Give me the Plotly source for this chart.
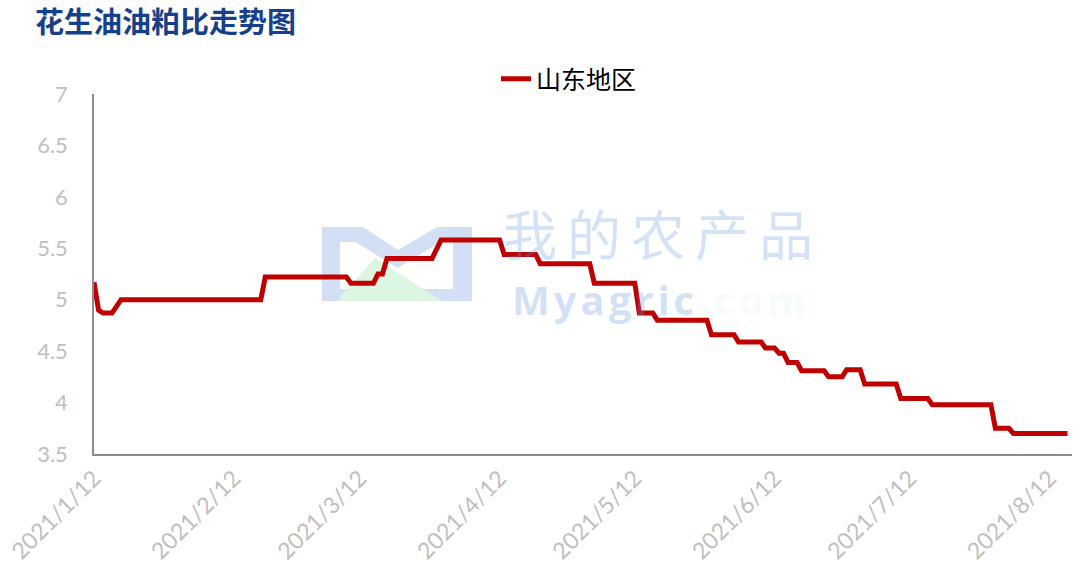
import plotly.graph_objects as go

# ---- data ----
dates = [
    "2021-01-12", "2021-01-13", "2021-01-14", "2021-01-16", "2021-01-18",
    "2021-02-18", "2021-02-19", "2021-03-09", "2021-03-10", "2021-03-15",
    "2021-03-16", "2021-03-17", "2021-03-18", "2021-03-28", "2021-03-30",
    "2021-04-12", "2021-04-13", "2021-04-20", "2021-04-21", "2021-05-02",
    "2021-05-03", "2021-05-12", "2021-05-13", "2021-05-16", "2021-05-17",
    "2021-05-28", "2021-05-29", "2021-06-03", "2021-06-04", "2021-06-09",
    "2021-06-10", "2021-06-12", "2021-06-13", "2021-06-14", "2021-06-15",
    "2021-06-17", "2021-06-18", "2021-06-23", "2021-06-24", "2021-06-27",
    "2021-06-28", "2021-07-01", "2021-07-02", "2021-07-09", "2021-07-10",
    "2021-07-16", "2021-07-17", "2021-07-30", "2021-07-31", "2021-08-03",
    "2021-08-04", "2021-08-16",
]
shandong = [
    5.17, 4.90, 4.87, 4.87, 5.00,
    5.00, 5.22, 5.22, 5.16, 5.16,
    5.25, 5.25, 5.40, 5.40, 5.58,
    5.58, 5.44, 5.44, 5.35, 5.35,
    5.16, 5.16, 4.87, 4.87, 4.80,
    4.80, 4.66, 4.66, 4.59, 4.59,
    4.53, 4.53, 4.48, 4.48, 4.39,
    4.39, 4.31, 4.31, 4.25, 4.25,
    4.32, 4.32, 4.18, 4.18, 4.04,
    4.04, 3.98, 3.98, 3.75, 3.75,
    3.70, 3.70,
]
series_name = "山东地区"
title_text = "花生油油粕比走势图"
x_tick_vals = ["2021-01-12", "2021-02-12", "2021-03-12", "2021-04-12",
               "2021-05-12", "2021-06-12", "2021-07-12", "2021-08-12"]
x_tick_text = ["2021/1/12", "2021/2/12", "2021/3/12", "2021/4/12",
               "2021/5/12", "2021/6/12", "2021/7/12", "2021/8/12"]
y_tick_vals = [3.5, 4, 4.5, 5, 5.5, 6, 6.5, 7]
y_tick_text = ["3.5", "4", "4.5", "5", "5.5", "6", "6.5", "7"]

# ---- layout geometry ----
W, H = 1081, 571
L, R, T, B = 94, 1072, 94, 454


def px(x):
    return (x - L) / (R - L)


def py(y):
    return (B - y) / (B - T)


def path(points):
    s = ""
    for i, (x, y) in enumerate(points):
        s += ("M" if i == 0 else "L") + f"{px(x):.4f},{py(y):.4f} "
    return s + "Z"


fig = go.Figure()
fig.add_trace(go.Scatter(
    x=dates, y=shandong, mode="lines", name=series_name,
    line=dict(color="#C00000", width=5, shape="linear"),
))

# watermark logo (faint)
logo_outer = [(322, 227), (363, 227), (398, 250), (437, 227), (472, 227),
              (472, 301), (322, 301)]
logo_inner = [(340, 242), (355, 242), (398, 268), (440, 242), (453, 242),
              (453, 289), (340, 289)]
logo_tri = [(340, 297), (375, 258), (442, 301), (340, 301)]
shapes = [
    dict(type="path", path=path(logo_outer), xref="paper", yref="paper",
         fillcolor="#D3DFF4", line=dict(width=0), layer="below"),
    dict(type="path", path=path(logo_inner), xref="paper", yref="paper",
         fillcolor="#FFFFFF", line=dict(width=0), layer="below"),
    dict(type="path", path=path(logo_tri), xref="paper", yref="paper",
         fillcolor="#DDF6E2", line=dict(width=0), layer="below"),
]

annotations = [
    dict(text="<span style='letter-spacing:10px'>我的农产品</span>",
         x=px(663), y=py(274), xref="paper", yref="paper",
         xanchor="center", yanchor="bottom", showarrow=False,
         font=dict(family="Noto Sans CJK SC", size=54,
                   color="rgba(100,150,225,0.28)")),
    dict(text="<span style='letter-spacing:4px'><b>Myagric"
              "<span style='color:rgba(120,220,140,0.3)'>.com</span></b></span>",
         x=px(661), y=py(270), xref="paper", yref="paper",
         xanchor="center", yanchor="top", showarrow=False,
         font=dict(family="Open Sans", size=40,
                   color="rgba(100,150,225,0.28)")),
]

fig.update_layout(
    width=W, height=H,
    margin=dict(l=L, r=W - R, t=T, b=H - B, autoexpand=False),
    paper_bgcolor="white", plot_bgcolor="white",
    title=dict(text="<b>" + title_text + "</b>", x=35 / W, xanchor="left",
               y=1 - 23 / H, yanchor="middle",
               font=dict(family="Noto Sans CJK SC", size=29, color="#17408B")),
    showlegend=True,
    legend=dict(orientation="h", x=px(496), xanchor="left", y=py(79), yanchor="middle",
                font=dict(family="Noto Sans CJK SC", size=25, color="#000000"),
                bgcolor="rgba(0,0,0,0)"),
    shapes=shapes,
    annotations=annotations,
    xaxis=dict(
        type="date", range=["2021-01-12", "2021-08-17"],
        tickvals=x_tick_vals, ticktext=x_tick_text, tickangle=-45,
        showgrid=False, zeroline=False, automargin=False,
        showline=True, linecolor="#8C8C8C", linewidth=1.5,
        ticks="", tickfont=dict(family="Lato", size=23, color="#BFBFBF"),
    ),
    yaxis=dict(
        range=[3.5, 7], tickvals=y_tick_vals, ticktext=y_tick_text,
        showgrid=False, zeroline=False, automargin=False,
        showline=True, linecolor="#8C8C8C", linewidth=1.5,
        ticks="", ticklabelstandoff=20,
        tickfont=dict(family="Lato", size=22, color="#BFBFBF"),
    ),
)

fig.write_html("out.html", config={"displayModeBar": False},
               post_script="document.body.style.margin='0';")
